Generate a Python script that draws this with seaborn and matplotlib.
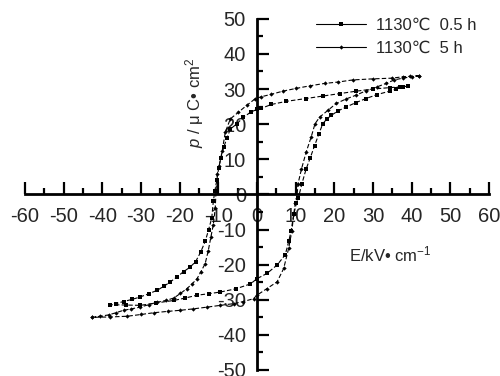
import numpy as np
import pandas as pd
import matplotlib
matplotlib.use("Agg")
import matplotlib.pyplot as plt
from matplotlib.lines import Line2D
import seaborn as sns

# 1130C 0.5 h loop: descending branch (+Emax -> -Emax), then ascending branch
e_05_down = [39.0, 37.0, 34.3, 30.0, 25.7, 21.4, 17.0, 12.7, 7.6, 3.7, 1.1, 0.0, -1.5, -3.5,
             -5.2, -6.9, -7.8, -8.6, -9.3, -9.9, -10.4, -10.9, -11.3, -11.7, -12.5, -13.4,
             -14.6, -15.9, -17.4, -19.0, -20.7, -22.4, -24.0, -25.8, -28.0, -30.2, -32.3,
             -34.5, -36.5, -38.0]
p_05_down = [30.8, 30.6, 30.4, 30.0, 29.4, 28.7, 28.0, 27.3, 26.5, 25.6, 24.5, 24.2, 23.5, 22.0,
             20.1, 18.6, 16.0, 13.4, 10.5, 7.6, 4.0, 1.0, -2.0, -6.7, -10.0, -13.4,
             -16.5, -19.2, -20.8, -22.0, -23.5, -24.9, -26.1, -27.3, -28.3, -29.2, -29.9,
             -30.5, -31.1, -31.4]
e_05_up = [-38.0, -34.0, -30.2, -26.0, -21.5, -18.5, -15.5, -12.5, -9.5, -5.5, -1.7, 0.0, 2.6,
           5.2, 7.3, 8.2, 8.8, 9.5, 10.2, 10.7, 11.6, 12.7, 13.8, 14.9, 16.0, 17.0, 18.0,
           19.2, 21.0, 23.1, 25.5, 28.2, 31.0, 34.3, 36.0, 37.7, 39.0]
p_05_up = [-31.4, -31.5, -31.6, -30.9, -30.2, -29.5, -28.7, -28.3, -27.8, -26.9, -25.5, -24.0, -22.5,
           -20.1, -17.2, -13.4, -10.5, -5.7, -2.5, -1.0, 3.0, 7.2, 10.5, 13.9, 17.2, 20.1, 21.4,
           22.5, 23.8, 24.9, 26.1, 27.3, 28.4, 29.4, 30.0, 30.6, 30.8]

# 1130C 5 h loop
e_5_down = [42.0, 39.5, 37.7, 35.0, 30.0, 24.8, 21.0, 17.5, 13.6, 10.2, 6.7, 3.7, 1.1, -0.5,
            -2.6, -4.8, -6.9, -8.2, -9.0, -9.8, -10.3, -10.6, -10.8, -11.3, -11.9, -12.6,
            -13.4, -14.5, -15.5, -16.8, -18.1, -19.8, -21.5, -23.5, -25.8, -28.0, -30.2,
            -32.5, -34.5, -36.5, -38.3, -40.5, -42.6]
p_5_down = [33.8, 33.6, 33.5, 33.1, 32.9, 32.6, 32.0, 31.6, 30.9, 30.2, 29.4, 28.5, 27.8, 27.2,
            25.4, 23.4, 21.5, 17.7, 12.4, 8.0, 5.7, 1.0, -4.0, -8.6, -12.0, -16.0,
            -19.7, -22.0, -24.0, -25.5, -26.8, -28.2, -29.5, -30.2, -30.7, -31.4, -32.1,
            -32.6, -33.0, -33.7, -34.3, -34.7, -35.0]
e_5_up = [-42.6, -38.0, -33.6, -30.0, -26.7, -23.0, -19.8, -16.5, -12.9, -9.5, -6.0, -3.5, -0.9,
          0.0, 2.6, 5.2, 6.9, 8.2, 9.0, 9.5, 9.9, 10.3, 10.6, 11.5, 12.7, 14.0, 15.0, 16.2,
          18.3, 20.5, 23.1, 25.5, 28.2, 31.0, 33.4, 35.5, 37.7, 40.0, 42.0]
p_5_up = [-35.0, -34.9, -34.7, -34.2, -33.7, -33.3, -33.0, -32.6, -32.1, -31.6, -31.1, -30.5, -29.7,
          -28.7, -26.8, -24.9, -21.1, -15.3, -10.5, -5.7, -2.5, -1.0, 3.0, 7.2, 12.0, 16.3, 20.1,
          22.0, 23.9, 25.9, 27.2, 28.2, 29.5, 30.6, 31.6, 32.6, 33.1, 33.5, 33.8]

labels = ["1130\u2103  0.5 h", "1130\u2103  5 h"]

sns.set_style("white")
plt.rcParams["font.family"] = ["Liberation Sans", "DejaVu Sans"]
plt.rcParams["mathtext.fontset"] = "custom"
plt.rcParams["mathtext.rm"] = "Liberation Sans"
plt.rcParams["mathtext.it"] = "Liberation Sans:italic"
plt.rcParams["mathtext.default"] = "regular"
plt.rcParams["axes.unicode_minus"] = False

loop_05 = pd.DataFrame({"E": e_05_down + e_05_up, "P": p_05_down + p_05_up})
loop_5 = pd.DataFrame({"E": e_5_down + e_5_up, "P": p_5_down + p_5_up})

fig = plt.figure(figsize=(5, 3.76), dpi=100)
ax = fig.add_axes([0.05, 0.016, 0.928, 0.934])

sns.lineplot(data=loop_05, x="E", y="P", sort=False, estimator=None, ax=ax,
             color="black", lw=0.8, linestyle=(0, (4, 2)), marker="s", markersize=2.6,
             markeredgewidth=0, zorder=3)
sns.lineplot(data=loop_5, x="E", y="P", sort=False, estimator=None, ax=ax,
             color="black", lw=0.8, linestyle=(0, (4, 2)), marker="D", markersize=2.2,
             markeredgewidth=0, zorder=3)

ax.set_xlim(-60, 60)
ax.set_ylim(-50, 50)
ax.spines["left"].set_position(("data", 0))
ax.spines["bottom"].set_position(("data", 0))
ax.spines["top"].set_visible(False)
ax.spines["right"].set_visible(False)
for s in ["left", "bottom"]:
    ax.spines[s].set_linewidth(2)
    ax.spines[s].set_color("black")

ax.set_xticks(np.arange(-60, 61, 10))
ax.set_xticks(np.arange(-55, 60, 10), minor=True)
ax.set_yticks(np.arange(-50, 51, 10))
ax.set_yticks(np.arange(-45, 50, 10), minor=True)
ax.tick_params(axis="both", which="both", bottom=True, left=True, top=False, right=False,
               direction="in", color="black")
ax.tick_params(axis="both", which="major", length=8.5, width=1.6, labelsize=14.5)
ax.tick_params(axis="both", which="minor", length=4.5, width=1.6)
ax.tick_params(axis="x", which="major", pad=9)
ax.tick_params(axis="y", which="major", pad=8)
ax.set_xlabel("")
ax.set_ylabel("")

ax.text(34.4, -17.2, "E/kV\u2022 cm$^{-1}$", fontsize=12, ha="center", va="center")
ax.text(-16.2, 26, "$\\mathit{p}$ / \u03bc C\u2022 cm$^{2}$", fontsize=12, rotation=90,
        ha="center", va="center")

handles = [
    Line2D([], [], color="black", lw=0.8, marker="s", markersize=2.6, markeredgewidth=0),
    Line2D([], [], color="black", lw=0.8, marker="D", markersize=2.2, markeredgewidth=0),
]
ax.legend(handles, labels, loc="upper right", bbox_to_anchor=(1.005, 1.045), frameon=False,
          fontsize=12, handlelength=3.0, handletextpad=0.6, labelspacing=0.45)

fig.savefig("out.png", dpi=100)
